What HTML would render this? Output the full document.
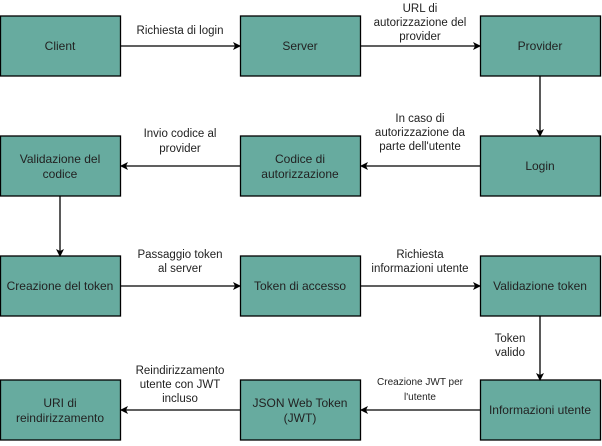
<!DOCTYPE html>
<html><head><style>html,body{margin:0;padding:0;background:#fff}</style></head><body>
<svg width="602" height="441" xmlns="http://www.w3.org/2000/svg" font-family="Liberation Sans, Arial, sans-serif">
<defs><marker id="a" markerWidth="8" markerHeight="8" refX="7" refY="4" orient="auto" markerUnits="userSpaceOnUse"><path d="M0,0 L8,4 L0,8 L2,4 Z" fill="#000"/></marker></defs>
<g fill="#67AB9F" stroke="#000" stroke-width="1.3">
<rect x="0.5" y="16" width="120" height="60"/><rect x="240.5" y="16" width="120" height="60"/><rect x="480.5" y="16" width="120" height="60"/>
<rect x="0.5" y="136" width="120" height="60"/><rect x="240.5" y="136" width="120" height="60"/><rect x="480.5" y="136" width="120" height="60"/>
<rect x="0.5" y="256" width="120" height="60"/><rect x="240.5" y="256" width="120" height="60"/><rect x="480.5" y="256" width="120" height="60"/>
<rect x="0.5" y="380" width="120" height="60"/><rect x="240.5" y="380" width="120" height="60"/><rect x="480.5" y="380" width="120" height="60"/>
</g>
<g stroke="#000" stroke-width="1.3" fill="none" marker-end="url(#a)">
<line x1="121" y1="46" x2="240" y2="46"/><line x1="361" y1="46" x2="480" y2="46"/>
<line x1="540" y1="76" x2="540" y2="136"/>
<line x1="480" y1="166" x2="361" y2="166"/><line x1="240" y1="166" x2="121" y2="166"/>
<line x1="60" y1="196" x2="60" y2="256"/>
<line x1="121" y1="286" x2="240" y2="286"/><line x1="361" y1="286" x2="480" y2="286"/>
<line x1="540" y1="316" x2="540" y2="380"/>
<line x1="480" y1="410" x2="361" y2="410"/><line x1="240" y1="410" x2="121" y2="410"/>
</g>
<g fill="#222" font-size="12" text-anchor="middle">
<text x="60" y="50">Client</text><text x="300" y="50">Server</text><text x="540" y="50">Provider</text>
<text x="60" y="163">Validazione del</text><text x="60" y="178">codice</text>
<text x="300" y="163">Codice di</text><text x="300" y="178">autorizzazione</text>
<text x="540" y="170">Login</text>
<text x="60" y="290">Creazione del token</text><text x="300" y="290">Token di accesso</text><text x="540" y="290">Validazione token</text>
<text x="60" y="407">URI di</text><text x="60" y="422">reindirizzamento</text>
<text x="300" y="407">JSON Web Token</text><text x="300" y="422">(JWT)</text>
<text x="540" y="414">Informazioni utente</text>
</g>
<g fill="#222" font-size="11.5" text-anchor="middle">
<text x="180" y="34">Richiesta di login</text>
<text x="420" y="12">URL di</text><text x="420" y="26">autorizzazione del</text><text x="420" y="40">provider</text>
<text x="420" y="122">In caso di</text><text x="420" y="136">autorizzazione da</text><text x="420" y="150">parte dell'utente</text>
<text x="180" y="137">Invio codice al</text><text x="180" y="152">provider</text>
<text x="180" y="258">Passaggio token</text><text x="180" y="272">al server</text>
<text x="420" y="258">Richiesta</text><text x="420" y="272">informazioni utente</text>
<text x="510" y="342">Token</text><text x="510" y="356">valido</text>
<text x="180" y="374">Reindirizzamento</text><text x="180" y="388">utente con JWT</text><text x="180" y="402">incluso</text>
</g>
<g fill="#222" font-size="10" text-anchor="middle">
<text x="420" y="385">Creazione JWT per</text><text x="420" y="400">l'utente</text>
</g>
</svg>
</body></html>
